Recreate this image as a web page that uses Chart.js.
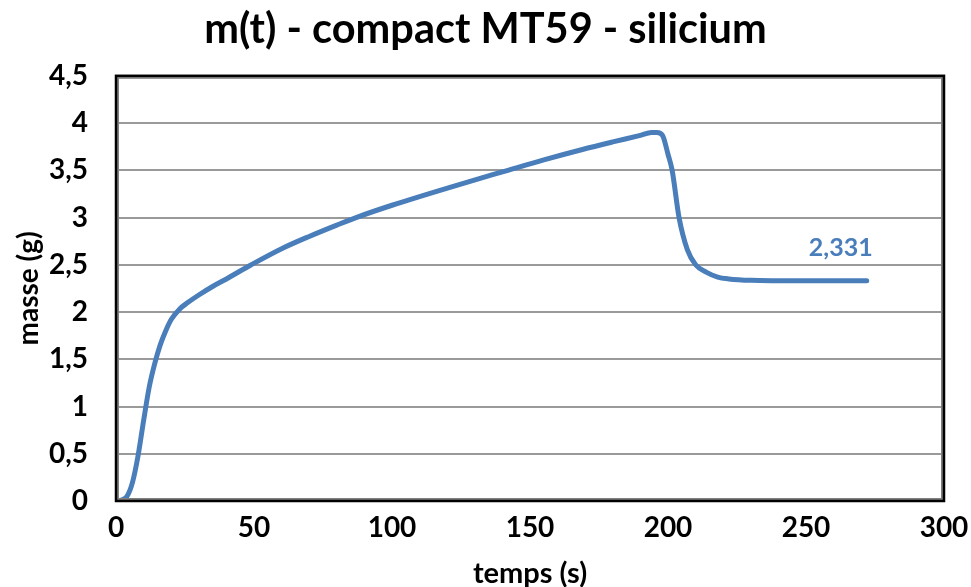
<!DOCTYPE html>
<html>
<head>
<meta charset="utf-8">
<script src="https://cdn.jsdelivr.net/npm/chart.js@4.4.1/dist/chart.umd.min.js"></script>
<style>
  html, body { margin: 0; padding: 0; background: #fff; }
  #wrap { width: 971px; height: 587px; }
</style>
</head>
<body>
<div id="wrap"><canvas id="massChart" width="971" height="587"></canvas></div>
<script>
// mass of the silicon compact over time (s -> g)
const timeS = [0, 2, 4, 6, 8, 10, 12, 14, 16, 18, 20, 23, 26, 30, 35, 40, 49, 60, 70, 80, 87, 100, 121, 142, 155, 169, 180, 190, 194, 196, 198, 200, 201.5, 204, 207, 210, 214, 218, 222, 230, 240, 250, 260, 272];
const massG = [0, 0.01, 0.05, 0.2, 0.48, 0.85, 1.2, 1.45, 1.65, 1.8, 1.92, 2.03, 2.1, 2.18, 2.27, 2.35, 2.5, 2.67, 2.8, 2.92, 3.0, 3.13, 3.32, 3.5, 3.61, 3.72, 3.8, 3.87, 3.9, 3.9, 3.87, 3.67, 3.5, 3.0, 2.66, 2.5, 2.42, 2.37, 2.35, 2.335, 2.332, 2.331, 2.331, 2.331];
const xTicks = [0, 50, 100, 150, 200, 250, 300];
const yTicks = [0, 0.5, 1, 1.5, 2, 2.5, 3, 3.5, 4, 4.5];

const FONT = 'Lato, "Open Sans", sans-serif';
const BLUE = '#4a7ebb';
const frac = v => String(v).replace('.', ',');

// heavy black frame around the plot area
const framePlugin = {
    id: 'frame',
    afterDatasetsDraw(chart) {
        const { ctx, chartArea: a } = chart;
        ctx.save();
        ctx.strokeStyle = '#7f7f7f';
        ctx.lineWidth = 2;
        ctx.strokeRect(a.left + 2, a.top + 2, a.right - a.left - 4, a.bottom - a.top - 4);
        ctx.strokeStyle = '#000';
        ctx.lineWidth = 2.5;
        ctx.strokeRect(a.left, a.top, a.right - a.left, a.bottom - a.top);
        ctx.restore();
    }
};

// value label next to the last point
const lastLabelPlugin = {
    id: 'lastLabel',
    afterDatasetsDraw(chart) {
        const { ctx, scales } = chart;
        const i = timeS.length - 1;
        const x = scales.x.getPixelForValue(timeS[i]);
        const y = scales.y.getPixelForValue(massG[i]);
        ctx.save();
        ctx.fillStyle = BLUE;
        ctx.font = 'bold 25px ' + FONT;
        ctx.textAlign = 'center';
        ctx.textBaseline = 'middle';
        ctx.fillText(frac(massG[i]), x - 26, y - 33);
        ctx.restore();
    }
};

new Chart(document.getElementById('massChart').getContext('2d'), {
    type: 'line',
    data: {
        datasets: [{
            label: 'masse',
            data: timeS.map((t, i) => ({ x: t, y: massG[i] })),
            borderColor: BLUE,
            borderWidth: 5,
            pointRadius: 0,
            fill: false,
            cubicInterpolationMode: 'monotone',
            borderCapStyle: 'round',
            borderJoinStyle: 'round'
        }]
    },
    options: {
        responsive: false,
        animation: false,
        layout: { padding: 0 },
        plugins: {
            legend: { display: false },
            tooltip: { enabled: false },
            title: {
                display: true,
                text: 'm(t) - compact MT59 - silicium',
                color: '#000',
                font: { family: FONT, size: 41.5, weight: 'bold', lineHeight: 1.2 },
                padding: { top: 5, bottom: 21 }
            }
        },
        scales: {
            x: {
                type: 'linear',
                min: 0,
                max: 300,
                afterFit: s => {
                    s.height = 86;
                    s.paddingLeft = 0;
                    s.paddingRight = 27;
                },
                afterBuildTicks: s => { s.ticks = xTicks.map(v => ({ value: v })); },
                grid: { display: false, drawTicks: false },
                border: { display: false },
                ticks: {
                    color: '#000',
                    padding: 10,
                    maxRotation: 0,
                    font: { family: FONT, size: 28, weight: 'bold' }
                },
                title: {
                    display: true,
                    text: 'temps (s)',
                    color: '#000',
                    padding: { top: 0, bottom: -4 },
                    font: { family: FONT, size: 29, weight: 'bold', lineHeight: 1.2 }
                }
            },
            y: {
                min: 0,
                max: 4.5,
                afterFit: s => { s.width = 116; },
                afterBuildTicks: s => { s.ticks = yTicks.map(v => ({ value: v })); },
                grid: { color: '#9a9a9a', lineWidth: 2, drawTicks: false },
                border: { display: false },
                ticks: {
                    color: '#000',
                    padding: 28,
                    crossAlign: 'near',
                    callback: v => frac(v),
                    font: { family: FONT, size: 28, weight: 'bold' }
                },
                title: {
                    display: true,
                    text: 'masse (g)',
                    color: '#000',
                    padding: { top: 12, bottom: 0 },
                    font: { family: FONT, size: 28, weight: 'bold', lineHeight: 1.2 }
                }
            }
        }
    },
    plugins: [framePlugin, lastLabelPlugin]
});
</script>
</body>
</html>
